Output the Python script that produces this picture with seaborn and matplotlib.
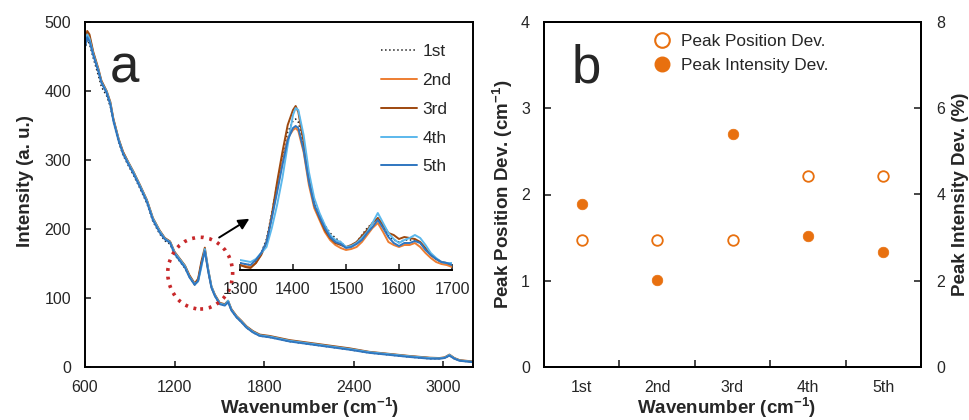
import numpy as np
import pandas as pd
import matplotlib
matplotlib.use("Agg")
import matplotlib.pyplot as plt
import seaborn as sns
from matplotlib.patches import Ellipse
from matplotlib.lines import Line2D

# ---------------- data: panel a (full spectra) ----------------
wavenumber = [600, 615, 630, 655, 690, 710, 745, 770, 790, 825, 855, 890, 925, 970, 1015,
              1055, 1100, 1135, 1170, 1200, 1235, 1270, 1300, 1335, 1358, 1380, 1403, 1425,
              1447, 1470, 1503, 1537, 1559, 1581, 1615, 1648, 1682, 1726, 1771, 1838, 1970,
              2105, 2240, 2375, 2505, 2640, 2775, 2910, 2975, 3010, 3042, 3075, 3110, 3200]
spec_1st = [460, 474, 468, 448, 422, 406, 393, 377, 355, 326, 307, 292, 278, 258, 237,
            211, 193, 183, 178, 163, 153, 143, 130, 119, 125, 150, 169, 140, 115, 103,
            91, 89, 94, 82, 72, 65, 57, 50, 45, 43, 37, 33, 29, 25, 20.5,
            17.5, 14.5, 12, 12, 13, 16.5, 12, 9, 7]
spec_2nd = [468, 485, 479, 455, 430, 414, 399, 382, 359, 330, 311, 296, 282, 262, 241,
            215, 197, 186, 181, 166, 156, 146, 132, 120, 126, 150, 169, 141, 116, 104,
            92, 90, 95, 83, 73, 66, 58, 51, 46, 44, 38, 34, 30, 26, 21.5,
            18.5, 15.5, 13, 12.5, 13.5, 17, 12.5, 9.5, 7.5]
spec_3rd = [471, 487, 482, 457, 432, 415, 400, 384, 360, 331, 312, 297, 283, 263, 242,
            216, 198, 187, 182, 167, 157, 147, 133, 121, 128, 153, 173, 142, 117, 105,
            93, 91, 96, 84, 74, 67, 59, 52, 47, 45, 39, 35, 31, 27, 22,
            19, 16, 13.5, 13, 14, 18, 13, 10, 8]
spec_4th = [466, 482, 476, 454, 430, 413, 399, 382, 358, 330, 310, 296, 282, 262, 241,
            215, 197, 186, 181, 166, 156, 146, 131, 120, 124, 145, 171, 142, 117, 104,
            92, 90, 96, 83, 73, 66, 58, 51, 46, 44, 38, 34, 30, 26, 21.5,
            18.5, 15.5, 13, 12.5, 13.5, 17.5, 12.5, 9.5, 7.5]
spec_5th = [464, 478, 472, 452, 428, 412, 397, 380, 357, 328, 309, 294, 280, 260, 239,
            213, 195, 185, 180, 164, 154, 144, 130, 119, 125, 148, 168, 139, 115, 103,
            91, 89, 94, 82, 72, 65, 57, 50, 45, 43, 37, 33, 29, 25, 20.5,
            17.5, 14.5, 12, 12, 13, 16.5, 12, 9, 7]

# ---------------- data: inset (1300-1700 cm-1, relative units) ----------------
inset_wn = [1300, 1310, 1320, 1330, 1340, 1350, 1360, 1370, 1380, 1390, 1400, 1405, 1410,
            1420, 1430, 1440, 1450, 1460, 1470, 1480, 1490, 1500, 1510, 1520, 1530, 1540,
            1550, 1560, 1570, 1580, 1590, 1600, 1610, 1620, 1630, 1640, 1650, 1660, 1670,
            1680, 1690, 1700]
inset_1st = [6, 5, 4, 8, 16, 30, 56, 85, 112, 137, 148, 150, 147, 124, 92, 68, 55, 44, 36, 31,
             27, 22, 23, 27, 34, 41, 46, 51, 42, 33, 29, 27, 29, 29, 29, 26, 20, 14, 10, 7, 6, 5]
inset_2nd = [4, 3, 2, 6, 15, 27, 52, 79, 107, 131, 139, 141, 138, 117, 84, 61, 49, 37, 29, 24,
             21, 19, 20, 22, 27, 34, 41, 46, 37, 27, 24, 22, 24, 24, 26, 22, 16, 11, 7, 5, 4, 2]
inset_3rd = [4, 2, 1, 6, 14, 26, 54, 87, 117, 144, 159, 163, 157, 127, 91, 64, 51, 39, 31, 26,
             24, 22, 24, 27, 33, 39, 46, 51, 44, 36, 34, 30, 32, 31, 30, 27, 21, 14, 10, 7, 6, 4]
inset_4th = [9, 8, 7, 10, 16, 22, 41, 64, 91, 124, 154, 161, 159, 134, 97, 71, 56, 44, 34, 29,
             27, 22, 23, 26, 31, 37, 46, 56, 46, 36, 30, 26, 29, 31, 34, 31, 24, 16, 11, 7, 6, 6]
inset_5th = [6, 5, 4, 9, 16, 27, 51, 77, 104, 129, 141, 143, 141, 119, 87, 64, 52, 41, 32, 27,
             25, 21, 22, 25, 29, 36, 42, 49, 41, 32, 26, 23, 26, 26, 28, 26, 19, 14, 10, 7, 6, 4]

# ---------------- data: panel b ----------------
scan_labels = ["1st", "2nd", "3rd", "4th", "5th"]
peak_position_dev = [1.47, 1.47, 1.47, 2.21, 2.21]      # cm-1 (left axis)
peak_intensity_dev = [3.79, 2.01, 5.41, 3.04, 2.66]     # %    (right axis)

series_names = ["1st", "2nd", "3rd", "4th", "5th"]
series_colors = ["#222222", "#ED7D31", "#9E480E", "#5BB8EC", "#2F76C0"]
series_styles = [":", "-", "-", "-", "-"]
series_widths = [1.1, 1.4, 1.4, 1.4, 1.4]
spectra = [spec_1st, spec_2nd, spec_3rd, spec_4th, spec_5th]
insets = [inset_1st, inset_2nd, inset_3rd, inset_4th, inset_5th]

ORANGE = "#E8700F"

# ---------------- style ----------------
sns.set_style("ticks")
plt.rcParams["font.family"] = ["Liberation Sans", "DejaVu Sans"]
plt.rcParams["mathtext.fontset"] = "custom"
plt.rcParams["mathtext.rm"] = "Liberation Sans"
plt.rcParams["mathtext.bf"] = "Liberation Sans:bold"
plt.rcParams["axes.linewidth"] = 1.4

TICK_FS = 11.5
LABEL_FS = 13.5
LEG_FS = 12.4

fig = plt.figure(figsize=(9.69, 4.2), dpi=100)
W, H = 969.0, 420.0

def fig_rect(x0, y_top, x1, y_bot):
    return [x0 / W, 1 - y_bot / H, (x1 - x0) / W, (y_bot - y_top) / H]

XLABEL = r"Wavenumber (cm$^{\mathbf{\text{-}1}}$)"

# ================= Panel a =================
axa = fig.add_axes(fig_rect(85, 22, 473, 367))
for name, spec, col, ls, lw in zip(series_names, spectra, series_colors, series_styles, series_widths):
    sns.lineplot(x=wavenumber, y=spec, ax=axa, color=col, linestyle=ls, linewidth=lw,
                 label=name, estimator=None, sort=False)
axa.set_xlim(600, 3200)
axa.set_ylim(0, 500)
axa.set_xticks([600, 1200, 1800, 2400, 3000])
axa.set_yticks([0, 100, 200, 300, 400, 500])
axa.tick_params(direction="in", length=4, width=1.2, labelsize=TICK_FS, pad=10)
axa.tick_params(axis="x", pad=9)
for s in axa.spines.values():
    s.set_visible(True)
    s.set_color("black")
axa.set_xlabel(r"Wavenumber (cm$^{\mathbf{-1}}$)", fontsize=LABEL_FS, fontweight="bold")
axa.set_ylabel("Intensity (a. u.)", fontsize=LABEL_FS, fontweight="bold")
axa.xaxis.set_label_coords(0.58, -0.082)
axa.yaxis.set_label_coords(-0.132, 0.54)
axa.text(0.064, 0.826, "a", transform=axa.transAxes, fontsize=38, ha="left", va="baseline")

handles = [Line2D([0], [0], color=c, ls=ls, lw=lw) for c, ls, lw in
           zip(series_colors, series_styles, series_widths)]
axa.legend(handles, series_names, loc="upper left", bbox_to_anchor=(381 / W, 1 - 44 / H),
           bbox_transform=fig.transFigure, frameon=False, fontsize=LEG_FS, borderpad=0,
           borderaxespad=0, handlelength=2.1, handletextpad=0.3, labelspacing=0.80)

# dotted red circle and arrow
axa.add_patch(Ellipse((1372, 136), 435, 104, fill=False, ec="#C8282A", lw=2.6,
                      ls=(0, (0.8, 1.6)), zorder=5))
axa.annotate("", xy=(1717, 217), xytext=(1483, 185.5),
             arrowprops=dict(arrowstyle="-|>", color="black", lw=1.4, mutation_scale=16))

# ================= Inset =================
axi = fig.add_axes(fig_rect(240, 100, 452, 270))
axi.patch.set_alpha(0)
for name, spec, col, ls, lw in zip(series_names, insets, series_colors, series_styles, series_widths):
    sns.lineplot(x=inset_wn, y=spec, ax=axi, color=col, linestyle=ls, linewidth=lw,
                 legend=False, estimator=None, sort=False)
axi.set_xlim(1300, 1700)
axi.set_ylim(-1, 169)
axi.set_xticks([1300, 1400, 1500, 1600, 1700])
axi.set_yticks([])
for side in ["left", "right", "top"]:
    axi.spines[side].set_visible(False)
axi.spines["bottom"].set_color("black")
axi.spines["bottom"].set_linewidth(1.4)
axi.tick_params(axis="x", direction="in", length=4, width=1.2, labelsize=TICK_FS, pad=9)

# ================= Panel b =================
axb = fig.add_axes(fig_rect(544, 22, 921, 367))
axb2 = axb.twinx()
xpos = list(range(len(scan_labels)))
sns.scatterplot(x=xpos, y=peak_position_dev, ax=axb, marker="o", s=58, color=ORANGE,
                facecolor="white", edgecolor=ORANGE, linewidth=1.3, zorder=3)
sns.scatterplot(x=xpos, y=peak_intensity_dev, ax=axb2, marker="o", s=58, color=ORANGE,
                edgecolor=ORANGE, linewidth=0.5, zorder=3)
axb.set_xlim(-0.5, 4.5)
axb.set_ylim(0, 4)
axb2.set_ylim(0, 8)
axb.set_yticks([0, 1, 2, 3, 4])
axb2.set_yticks([0, 2, 4, 6, 8])
axb.set_xticks(xpos)
axb.set_xticklabels(scan_labels)
axb.set_xticks([0.5, 1.5, 2.5, 3.5], minor=True)
axb.tick_params(axis="x", which="major", length=0, labelsize=TICK_FS, pad=9)
axb.tick_params(axis="x", which="minor", direction="in", length=5, width=1.2)
axb.tick_params(axis="y", direction="in", length=5, width=1.2, labelsize=TICK_FS, pad=10)
axb2.tick_params(axis="y", direction="in", length=5, width=1.2, labelsize=TICK_FS, pad=11)
for ax in (axb, axb2):
    for s in ax.spines.values():
        s.set_visible(True)
        s.set_color("black")
        s.set_linewidth(1.4)
axb.set_xlabel(r"Wavenumber (cm$^{\mathbf{-1}}$)", fontsize=LABEL_FS, fontweight="bold")
axb.set_ylabel(r"Peak Position Dev. (cm$^{\mathbf{-1}}$)", fontsize=LABEL_FS, fontweight="bold")
axb2.set_ylabel("Peak Intensity Dev. (%)", fontsize=LABEL_FS, fontweight="bold")
axb.xaxis.set_label_coords(0.485, -0.082)
axb.yaxis.set_label_coords(-0.077, 0.5)
axb2.yaxis.set_label_coords(1.082, 0.5)
axb.text(0.074, 0.826, "b", transform=axb.transAxes, fontsize=38, ha="left", va="baseline")

hb = [Line2D([0], [0], ls="none", marker="o", markersize=10.5, markerfacecolor="white",
             markeredgecolor=ORANGE, markeredgewidth=1.5),
      Line2D([0], [0], ls="none", marker="o", markersize=10.5, markerfacecolor=ORANGE,
             markeredgecolor=ORANGE)]
axb2.legend(hb, ["Peak Position Dev.", "Peak Intensity Dev."], loc="upper left",
            bbox_to_anchor=(653.7 / W, 1 - 33.6 / H), bbox_transform=fig.transFigure,
            frameon=False, fontsize=LEG_FS, borderpad=0, borderaxespad=0, handlelength=1.0,
            handletextpad=0.58, labelspacing=0.56)

fig.savefig("out.png", dpi=100)
